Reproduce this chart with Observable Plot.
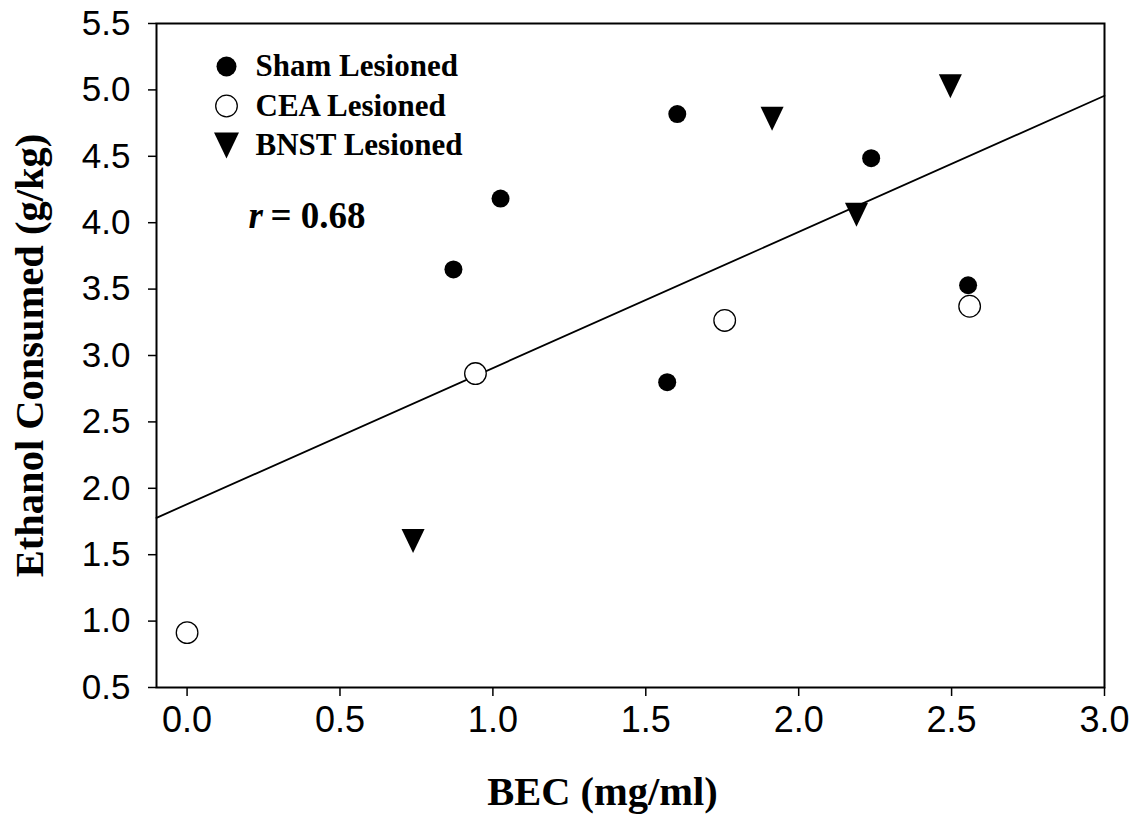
<!DOCTYPE html>
<html><head><meta charset="utf-8">
<script src="https://cdn.jsdelivr.net/npm/d3@7"></script>
<script src="https://cdn.jsdelivr.net/npm/@observablehq/plot@0.6"></script>
<style>body{margin:0;background:#fff} #chart svg{display:block;background:#fff}</style>
</head><body><div id="chart"></div>
<script>
// ---- data ----
const shamBEC  = [0.871, 1.025, 1.603, 1.570, 2.237, 2.554];
const shamEtOH = [3.648, 4.182, 4.818, 2.799, 4.486, 3.529];
const ceaBEC   = [0.000, 0.943, 1.758, 2.559];
const ceaEtOH  = [0.913, 2.864, 3.264, 3.371];
const bnstBEC  = [0.739, 1.913, 2.189, 2.496];
const bnstEtOH = [1.603, 4.782, 4.060, 5.027];
const groupNames = ["Sham Lesioned", "CEA Lesioned", "BNST Lesioned"];
const rValue = "0.68";
const xTicks = [0.0, 0.5, 1.0, 1.5, 2.0, 2.5, 3.0];
const yTicks = [0.5, 1.0, 1.5, 2.0, 2.5, 3.0, 3.5, 4.0, 4.5, 5.0, 5.5];
const xDomain = [-0.1, 3.0];
const yDomain = [0.5, 5.5];
const xTitle = "BEC (mg/ml)";
const yTitle = "Ethanol Consumed (g/kg)";

// ---- tables built from the arrays ----
const toRows = (xs, ys) => xs.map((x, i) => ({x, y: ys[i]}));
const sham = toRows(shamBEC, shamEtOH);
const cea = toRows(ceaBEC, ceaEtOH);
const bnst = toRows(bnstBEC, bnstEtOH);
const all = [...sham, ...cea, ...bnst];
const mx = d3.mean(all, d => d.x), my = d3.mean(all, d => d.y);
const slope = d3.sum(all, d => (d.x - mx) * (d.y - my)) / d3.sum(all, d => (d.x - mx) ** 2);
const fit = xDomain.map(x => ({x, y: my + slope * (x - mx)}));

// downward triangle, a bit taller than equilateral
const triDown = {draw(ctx, size) {
  const r = Math.sqrt(size / Math.PI), w = r * 0.96;
  ctx.moveTo(-w, -r); ctx.lineTo(w, -r); ctx.lineTo(0, r); ctx.closePath();
}};

const serif = "Liberation Serif, Times New Roman, serif";
const styles = [
  {symbol: "circle", fill: "black", stroke: "none", r: 9, lr: 10},
  {symbol: "circle", fill: "white", stroke: "black", r: 10.8, lr: 10.8},
  {symbol: triDown, fill: "black", stroke: "none", r: 12, lr: 13}
];

const legendMarks = [];
groupNames.forEach((name, i) => {
  const s = styles[i];
  legendMarks.push(Plot.dot([name], {frameAnchor: "top-left", dx: 70, dy: 43 + i * 39.5,
    symbol: s.symbol, r: s.lr, fill: s.fill, stroke: s.stroke, strokeWidth: 1.3}));
  legendMarks.push(Plot.text([name], {frameAnchor: "top-left", dx: 99, dy: 43 + i * 39.5,
    textAnchor: "start", lineAnchor: "middle", fontFamily: serif, fontWeight: "bold", fontSize: 31, fill: "black"}));
});

const chart = Plot.plot({
  width: 1141, height: 836,
  marginLeft: 156, marginRight: 37, marginTop: 23, marginBottom: 149,
  style: {fontFamily: "Liberation Sans, Arial, sans-serif", fontSize: "36px", color: "black", background: "white"},
  x: {domain: xDomain},
  y: {domain: yDomain},
  marks: [
    Plot.axisX({ticks: xTicks, tickSize: 9, tickPadding: 10, tickFormat: d3.format(".1f"), label: null, strokeWidth: 1.5, fontSize: 36}),
    Plot.axisY({ticks: yTicks, tickSize: 8, tickPadding: 18, tickFormat: d3.format(".1f"), label: null, strokeWidth: 1.5, fontSize: 35}),
    Plot.line(fit, {x: "x", y: "y", stroke: "black", strokeWidth: 1.8}),
    Plot.dot(sham, {x: "x", y: "y", r: styles[0].r, fill: "black"}),
    Plot.dot(cea, {x: "x", y: "y", r: styles[1].r, fill: "white", stroke: "black", strokeWidth: 1.3}),
    Plot.dot(bnst, {x: "x", y: "y", r: styles[2].r, symbol: triDown, fill: "black"}),
    ...legendMarks,
    Plot.text(["r"], {frameAnchor: "top-left", dx: 92, dy: 193, textAnchor: "start", lineAnchor: "middle",
      fontFamily: serif, fontWeight: "bold", fontStyle: "italic", fontSize: 37, fill: "black"}),
    Plot.text(["= " + rValue], {frameAnchor: "top-left", dx: 114, dy: 193, textAnchor: "start", lineAnchor: "middle",
      fontFamily: serif, fontWeight: "bold", fontSize: 37, fill: "black"}),
    Plot.text([xTitle], {frameAnchor: "bottom", dx: -28, dy: 105, textAnchor: "middle", lineAnchor: "middle",
      fontFamily: serif, fontWeight: "bold", fontSize: 40.5, fill: "black"}),
    Plot.text([yTitle], {frameAnchor: "left", dx: -126, rotate: -90, textAnchor: "middle", lineAnchor: "middle",
      fontFamily: serif, fontWeight: "bold", fontSize: 40.5, fill: "black"}),
    Plot.frame({stroke: "black", strokeWidth: 2})
  ]
});
document.getElementById("chart").appendChild(chart);
</script>
</body></html>
